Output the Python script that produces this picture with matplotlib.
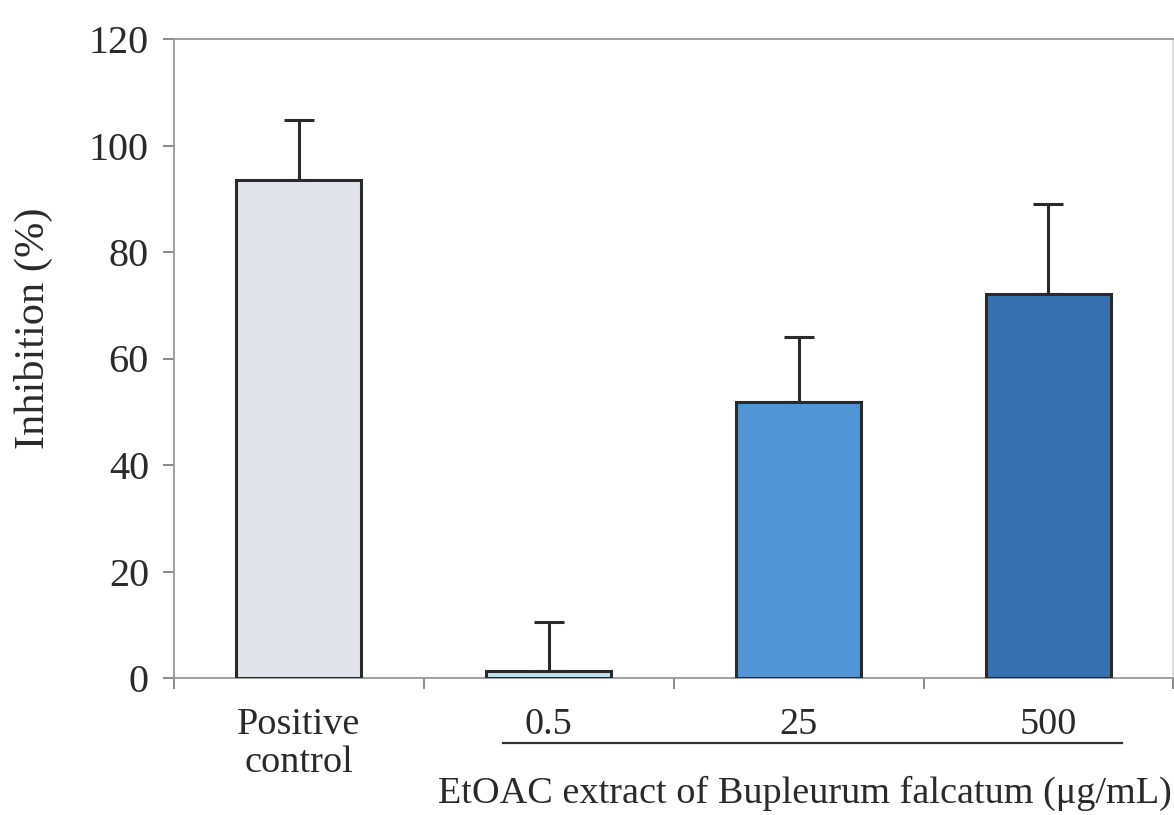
import matplotlib
matplotlib.use("Agg")
import matplotlib.pyplot as plt
import numpy as np

categories = ["Positive\ncontrol", "0.5", "25", "500"]
values = [93.5, 1.3, 51.8, 72.1]
errors = [11.2, 9.3, 12.2, 16.9]
colors = ["#e1e5eb", "#c2e2ef", "#5295d6", "#3770b0"]
yticks = [0, 20, 40, 60, 80, 100, 120]
xlabel = "EtOAC extract of Bupleurum falcatum (μg/mL)"
ylabel = "Inhibition (%)"

plt.rcParams['font.family'] = ['Liberation Serif', 'DejaVu Serif']

fig = plt.figure(figsize=(11.74, 8.15), dpi=100)
ax = fig.add_axes([174/1174, 1-678/815, 1-174/1174 - 0.0005, (678-39)/815])

x = np.arange(len(categories))
ax.bar(x, values, width=0.5, color=colors, edgecolor="#2a2a2a", linewidth=2.2, zorder=3)
ax.errorbar(x, values, yerr=[np.zeros(len(errors)), errors], fmt="none",
            ecolor="#2a2a2a", elinewidth=2.2, capsize=11, capthick=2.2, zorder=2)

ax.set_xlim(-0.5, len(categories) - 0.5)
ax.set_ylim(0, 120)
ax.set_yticks(yticks)
ax.set_yticklabels([str(t) for t in yticks], fontsize=29, color="#2a2a2a")
ax.set_xticks(x)
ax.set_xticklabels(categories, fontsize=27.5, color="#2a2a2a", linespacing=1.15)
ax.set_xticks(np.arange(-0.5, len(categories)), minor=True)
ax.tick_params(axis="x", which="major", length=0, pad=21)
ax.tick_params(axis="x", which="minor", length=8, width=1.2, color="#777777", direction="out")
ax.tick_params(axis="y", which="major", length=8, width=1.2, color="#777777", direction="out", pad=10)
ax.set_ylabel(ylabel, fontsize=30.5, color="#2a2a2a")
ax.yaxis.label.set_va("center")
ax.yaxis.set_label_coords(-0.141, 0.548)

for s in ax.spines.values():
    s.set_color("#999999")
    s.set_linewidth(1.3)
ax.spines["right"].set_color("#dddddd")

# bracket line under the extract concentrations
fig.add_artist(plt.Line2D([503/1174, 1122/1174], [1-743/815, 1-743/815],
                          color="#333333", linewidth=1.6))
fig.text(805/1174, 1-793/815, xlabel, ha="center", va="center", fontsize=27.5, color="#2a2a2a")

fig.savefig("out.png", dpi=100)
